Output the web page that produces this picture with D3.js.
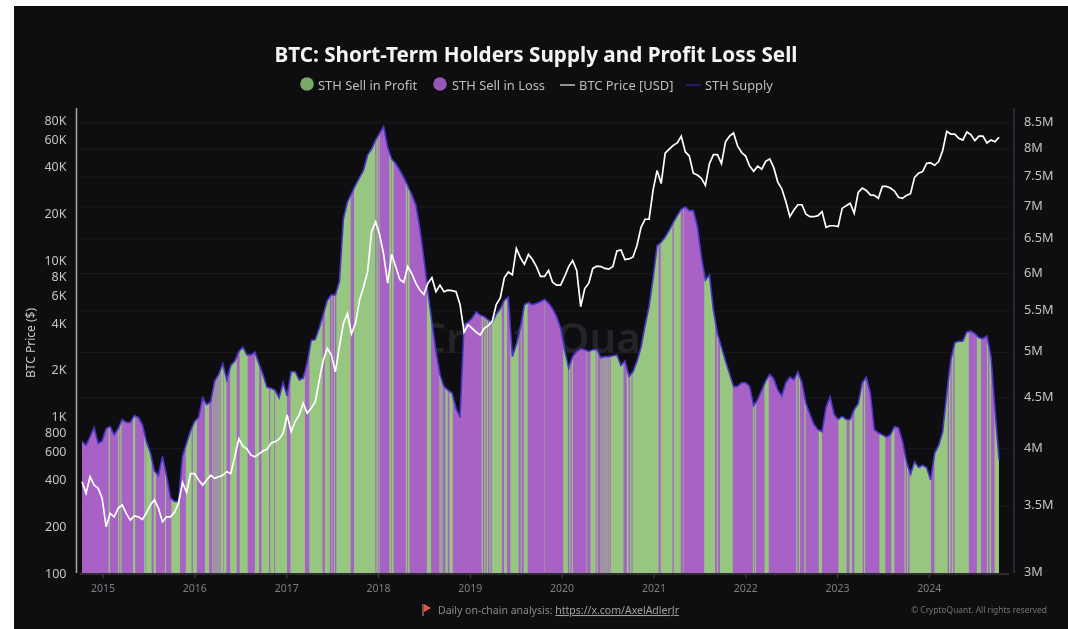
<!DOCTYPE html>
<html>
<head>
<meta charset="utf-8">
<title>BTC: Short-Term Holders Supply and Profit Loss Sell</title>
<script src="https://cdn.jsdelivr.net/npm/d3@7/dist/d3.min.js"></script>
<style>
  html, body { margin: 0; padding: 0; background: #fff; }
  svg { display: block; font-family: "Noto Sans", sans-serif; filter: blur(0.4px); }
</style>
</head>
<body>
<svg id="chart" width="1068" height="629"></svg>
<script>
// Values, one sample every 16 days from the first date
const firstDate = new Date(2014, 9, 11);
const stepDays = 16;

// STH supply in millions
const supplyM = [
  4.07,4.03,4.11,4.20,4.05,4.07,4.19,4.21,4.13,4.19,4.28,4.25,4.25,4.32,4.30,4.23,4.07,3.96,3.80,3.76,
  3.93,3.76,3.57,3.54,3.54,3.93,4.05,4.17,4.26,4.30,4.50,4.43,4.46,4.68,4.75,4.87,4.69,4.85,4.90,5.01,
  5.06,4.97,4.97,5.00,4.87,4.75,4.61,4.60,4.58,4.50,4.66,4.52,4.78,4.78,4.69,4.71,4.88,5.14,5.15,5.29,
  5.46,5.64,5.71,5.71,5.89,6.81,7.08,7.22,7.36,7.49,7.62,7.89,8.00,8.17,8.30,8.43,8.03,7.82,7.74,7.62,
  7.49,7.35,7.20,7.03,6.66,6.21,5.75,5.36,5.01,4.75,4.62,4.58,4.55,4.39,4.30,5.33,5.36,5.41,5.49,5.45,
  5.43,5.39,5.36,5.46,5.53,5.64,5.68,4.95,5.09,5.29,5.58,5.61,5.58,5.60,5.62,5.65,5.60,5.53,5.43,5.29,
  5.03,4.82,4.95,5.01,5.04,5.03,5.01,5.03,5.03,4.94,4.95,4.95,4.96,4.97,4.85,4.90,4.73,4.78,4.90,5.06,
  5.32,5.56,5.94,6.40,6.45,6.53,6.63,6.75,6.86,6.96,7.00,6.94,6.94,6.69,6.24,5.91,5.98,5.51,5.22,5.06,
  4.90,4.76,4.62,4.62,4.66,4.66,4.62,4.42,4.48,4.58,4.68,4.75,4.70,4.58,4.52,4.66,4.72,4.69,4.78,4.66,
  4.44,4.33,4.23,4.18,4.16,4.40,4.51,4.33,4.28,4.31,4.28,4.28,4.38,4.44,4.66,4.72,4.55,4.18,4.15,4.13,
  4.11,4.13,4.21,4.20,4.07,3.88,3.77,3.88,3.83,3.85,3.83,3.72,3.96,4.03,4.16,4.54,4.91,5.11,5.13,5.13,
  5.24,5.25,5.22,5.17,5.16,5.19,4.95,4.38,3.90
];

// BTC price in USD
const priceUsd = [
  384,324,414,366,349,301,198,241,229,260,273,241,218,232,229,220,243,273,294,260,
  213,229,229,245,281,380,330,434,434,394,366,394,423,404,414,423,446,434,560,727,
  650,625,570,555,580,605,620,680,695,720,785,1030,805,935,1030,1225,1055,1140,1250,1727,
  2316,2757,2490,1950,2820,3980,4600,3400,3980,5600,6800,8500,15400,17800,14700,11000,7200,11000,9200,7600,
  7300,9200,8300,7200,6500,6100,7200,7800,6350,7000,6350,6500,6450,6350,5250,3500,3900,3700,3500,3350,
  3700,3850,4100,5250,5800,7800,8500,8150,12000,10500,9500,11000,10200,9200,7950,7950,8700,7300,7000,7000,
  7950,9200,10050,8700,5100,6650,7200,8950,9250,9200,8950,8850,9200,11600,11750,10200,10300,10600,12600,16400,
  18500,18500,28500,38000,31300,49000,52000,55000,57000,63000,50000,47000,36500,35500,33800,30500,42000,48000,48000,42000,
  58000,63000,66000,54500,49500,47000,40500,37500,40500,38700,43500,45000,39600,32000,29000,24000,19200,21200,22900,22900,
  19900,19200,19200,19500,20700,16400,16800,16800,16600,21700,22600,23400,20200,27500,29300,28300,26500,26300,25200,30000,
  30000,29300,28000,25600,25200,26300,27000,34300,36500,37400,42200,42500,41000,43300,51000,67700,65000,65000,61000,59500,
  67000,64500,59000,63000,63000,57000,59500,58000,62000
];

// Days in each sell regime, alternating loss, profit, loss, ... from the first date
const sellRunDays = [
  106,5,32,4,3,4,3,3,43,9,35,6,2,22,8,9,36,4,21,35,23,23,5,16,32,17,13,4,4,4,4,4,4,4,4,
  10,2,12,14,27,11,32,29,17,9,31,4,16,3,48,13,58,17,53,9,20,6,4,6,4,6,57,13,85,4,5,4,4,
  38,8,2,8,48,6,3,6,69,17,33,5,3,5,11,9,7,13,115,5,5,5,5,5,5,5,5,40,9,12,13,33,8,4,8,16,
  66,1,74,19,5,5,5,5,54,3,13,20,4,5,11,4,4,4,4,4,4,4,4,4,4,51,13,8,5,6,4,104,8,47,5,28,10,3,
  80,44,7,5,7,51,80,5,3,5,33,17,109,5,6,5,17,5,52,13,65,33,11,11,9,33,5,5,56,24,23,13,40,
  5,5,5,5,86,13,53,5,6,5,6,5,57,32,17,23,5,5,7,13,60
];

const leftTicks = [100,200,400,600,800,1000,2000,4000,6000,8000,10000,20000,40000,60000,80000];
const rightTicks = [3e6,3.5e6,4e6,4.5e6,5e6,5.5e6,6e6,6.5e6,7e6,7.5e6,8e6,8.5e6];
const yearTicks = [2015,2016,2017,2018,2019,2020,2021,2022,2023,2024];

const GREEN = "#96c680";
const PURPLE = "#a862c6";
const BLUE = "#4a37c8";

const svg = d3.select("#chart");

// Panel
svg.append("rect").attr("x", 14).attr("y", 6).attr("width", 1054).attr("height", 623).attr("fill", "#0e0e10");

// the reference is a soft screenshot
const defs = svg.append("defs");
defs.append("filter").attr("id", "soft").append("feGaussianBlur").attr("stdDeviation", 0.5);

/*
** SCALES
*/
const dateAt = i => d3.timeDay.offset(firstDate, i * stepDays);
const x = d3.scaleTime().domain([firstDate, dateAt(supplyM.length - 1)]).range([82, 999]);
const yPrice = d3.scaleLog().domain([100, 80000]).range([573, 120]);
const ySupply = d3.scaleLog().domain([3e6, 8.5e6]).range([573, 123]);

/*
** GRID AND WATERMARK
*/
svg.append("g").selectAll("line").data(rightTicks.slice(1))
  .join("line")
    .attr("x1", 80).attr("x2", 1009)
    .attr("y1", d => ySupply(d)).attr("y2", d => ySupply(d))
    .attr("stroke", "#1c1c1f");

svg.append("text")
  .attr("x", 552).attr("y", 353)
  .attr("text-anchor", "middle")
  .attr("font-size", 42)
  .attr("font-weight", 600)
  .attr("fill", "#232328")
  .text("CryptoQuant");

/*
** SELL STRIPES, CLIPPED TO THE SUPPLY AREA
*/
const supplyArea = d3.area()
  .x((d, i) => x(dateAt(i)))
  .y0(573)
  .y1(d => ySupply(d * 1e6));

defs.append("clipPath").attr("id", "under-supply")
  .append("path").attr("d", supplyArea(supplyM));

const marks = svg.append("g").attr("filter", "url(#soft)");

let runStart = 0;
const runs = sellRunDays.map((days, i) => {
  const run = { start: runStart, end: runStart + days, loss: i % 2 === 0 };
  runStart += days;
  return run;
});

marks.append("g").attr("clip-path", "url(#under-supply)")
  .selectAll("rect").data(runs)
  .join("rect")
    .attr("x", d => x(d3.timeDay.offset(firstDate, d.start)))
    .attr("width", d => x(d3.timeDay.offset(firstDate, d.end)) - x(d3.timeDay.offset(firstDate, d.start)) + 0.6)
    .attr("y", 100)
    .attr("height", 473)
    .attr("fill", d => d.loss ? PURPLE : GREEN);

/*
** LINES
*/
const supplyLine = d3.line()
  .x((d, i) => x(dateAt(i)))
  .y(d => ySupply(d * 1e6));

marks.append("path")
  .attr("d", supplyLine(supplyM))
  .attr("fill", "none")
  .attr("stroke", BLUE)
  .attr("stroke-width", 1.6);

const priceLine = d3.line()
  .x((d, i) => x(dateAt(i)))
  .y(d => yPrice(d));

marks.append("path")
  .attr("d", priceLine(priceUsd))
  .attr("fill", "none")
  .attr("stroke", "#fff")
  .attr("stroke-width", 1.7);

/*
** AXES
*/
const formatPrice = d => d >= 1000 ? (d / 1000) + "K" : d;
const formatSupply = d => (d / 1e6) + "M";

const leftAxis = svg.append("g")
  .attr("transform", "translate(76.5,0)")
  .call(d3.axisLeft(yPrice).tickValues(leftTicks).tickFormat(formatPrice).tickSize(0).tickPadding(10));
leftAxis.select(".domain").remove();
leftAxis.selectAll("text").attr("fill", "#c4c4c4").attr("font-size", 12.5).attr("font-family", "Noto Sans");

const rightAxis = svg.append("g")
  .attr("transform", "translate(1014,-1.5)")
  .call(d3.axisRight(ySupply).tickValues(rightTicks).tickFormat(formatSupply).tickSize(0).tickPadding(10));
rightAxis.select(".domain").remove();
rightAxis.selectAll("text").attr("fill", "#c4c4c4").attr("font-size", 12.7).attr("font-family", "Noto Sans");

svg.append("line").attr("x1", 76.5).attr("x2", 76.5).attr("y1", 108).attr("y2", 573)
  .attr("stroke", "#a8a8a8").attr("stroke-width", 1.5);
svg.append("line").attr("x1", 1014).attr("x2", 1014).attr("y1", 108).attr("y2", 573)
  .attr("stroke", "#3c3c40").attr("stroke-width", 1.2);

const bottomAxis = svg.append("g")
  .attr("transform", "translate(0,574)")
  .call(d3.axisBottom(x)
    .tickValues(yearTicks.map(y => new Date(y, 0, 1)))
    .tickFormat(d3.timeFormat("%Y"))
    .tickSize(4)
    .tickPadding(7));
bottomAxis.select(".domain").attr("d", "M80,0H1009").attr("stroke", "#4a4a4e");
bottomAxis.selectAll("line").attr("stroke", "#4a4a4e");
bottomAxis.selectAll("text").attr("fill", "#7f7f82").attr("font-size", 10.5).attr("font-family", "Noto Sans");

svg.append("text")
  .attr("transform", "translate(35,343) rotate(-90)")
  .attr("text-anchor", "middle")
  .attr("font-size", 12)
  .attr("fill", "#c8c8c8")
  .text("BTC Price ($)");

/*
** TITLE AND LEGEND
*/
svg.append("text")
  .attr("x", 536).attr("y", 62)
  .attr("text-anchor", "middle")
  .attr("font-size", 20.7)
  .attr("font-weight", 700)
  .attr("fill", "#f4f4f4")
  .text("BTC: Short-Term Holders Supply and Profit Loss Sell");

const legendColor = "#bdbdbd";
const legend = svg.append("g").attr("font-size", 12.9).attr("fill", legendColor);
[[318, "STH Sell in Profit"], [452, "STH Sell in Loss"], [579, "BTC Price [USD]"], [705, "STH Supply"]]
  .forEach(d => legend.append("text").attr("x", d[0]).attr("y", 89.5).text(d[1]));
legend.append("circle").attr("cx", 307).attr("cy", 84).attr("r", 6.8).attr("fill", "#7aa868");
legend.append("circle").attr("cx", 440).attr("cy", 84).attr("r", 6.8).attr("fill", "#9456b2");
legend.append("line").attr("x1", 560).attr("x2", 575).attr("y1", 85).attr("y2", 85).attr("stroke", "#ddd").attr("stroke-width", 1.3);
legend.append("line").attr("x1", 686).attr("x2", 701).attr("y1", 85).attr("y2", 85).attr("stroke", "#33269a").attr("stroke-width", 1.3);

/*
** FOOTER
*/
svg.append("path").attr("d", "M423,604V616").attr("stroke", "#d9736a").attr("stroke-width", 1.2);
svg.append("path").attr("d", "M424,604L431,608L424,612Z").attr("fill", "#e0574a");

const footer = svg.append("text").attr("x", 438).attr("y", 614).attr("font-size", 10.5).attr("fill", "#8a8a8d");
footer.append("tspan").text("Daily on-chain analysis: ");
footer.append("tspan").attr("text-decoration", "underline").attr("fill", "#a0a0a3").text("https://x.com/AxelAdlerJr");

svg.append("text")
  .attr("x", 1047).attr("y", 613)
  .attr("text-anchor", "end")
  .attr("font-size", 8.4)
  .attr("fill", "#77777a")
  .text("© CryptoQuant. All rights reserved");
</script>
</body>
</html>
